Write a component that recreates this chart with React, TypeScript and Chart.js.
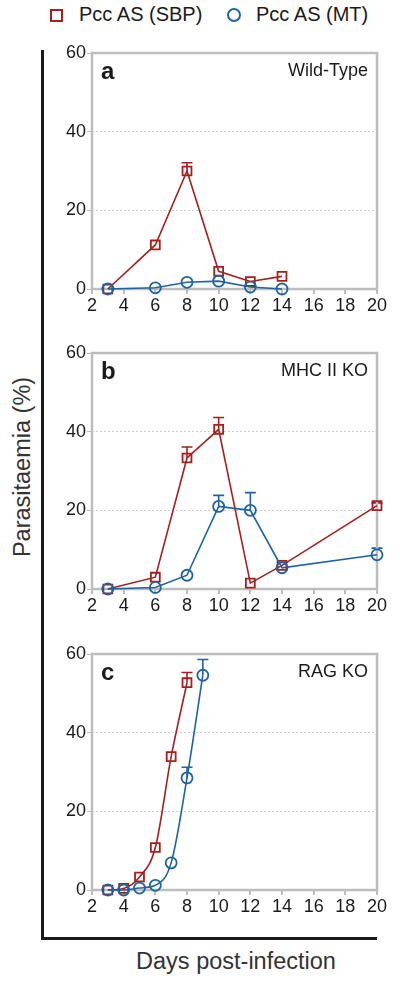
import React, { useEffect, useRef } from "react";
import { Chart, registerables } from "chart.js";

Chart.register(...registerables);

const RED = "#a3201f";
const BLUE = "#1f63a0";
const FONT = "'Liberation Sans', Arial, sans-serif";

const xTicks = [2, 4, 6, 8, 10, 12, 14, 16, 18, 20];
const yTicks = [0, 20, 40, 60];

// Panel a - Wild-Type
const aDays = [3, 6, 8, 10, 12, 14];
const aSBP = [0, 11.2, 30, 4.5, 1.9, 3.2];
const aSBPErr = [null, null, 2.1, null, null, null];
const aMT = [0, 0.3, 1.7, 2.0, 0.5, 0];
const aMTErr = [null, null, null, null, null, null];

// Panel b - MHC II KO
const bDays = [3, 6, 8, 10, 12, 14, 20];
const bSBP = [0, 3.0, 33.3, 40.6, 1.5, 6.0, 21.2];
const bSBPErr = [null, null, 2.8, 3.0, null, null, 0.7];
const bMT = [0, 0.4, 3.5, 21.0, 20.0, 5.4, 8.7];
const bMTErr = [null, null, null, 2.8, 4.5, null, 1.7];

// Panel c - RAG KO
const cSBPDays = [3, 4, 5, 6, 7, 8];
const cSBP = [0, 0.4, 3.3, 10.8, 33.9, 52.7];
const cSBPErr = [null, null, null, null, null, 2.6];
const cMTDays = [3, 4, 5, 6, 7, 8, 9];
const cMT = [0, 0, 0.5, 1.2, 6.9, 28.5, 54.6];
const cMTErr = [null, null, null, null, null, 2.7, 4.0];

const pair = (xs: number[], ys: number[]) => xs.map((x, i) => ({ x, y: ys[i] }));

type Panel = {
  letter: string;
  title: string;
  top: number;
  smooth: boolean;
  sbp: { x: number; y: number }[];
  sbpErr: (number | null)[];
  mt: { x: number; y: number }[];
  mtErr: (number | null)[];
};

const panels: Panel[] = [
  { letter: "a", title: "Wild-Type", top: 53, smooth: false, sbp: pair(aDays, aSBP), sbpErr: aSBPErr, mt: pair(aDays, aMT), mtErr: aMTErr },
  { letter: "b", title: "MHC II KO", top: 353, smooth: false, sbp: pair(bDays, bSBP), sbpErr: bSBPErr, mt: pair(bDays, bMT), mtErr: bMTErr },
  { letter: "c", title: "RAG KO", top: 654, smooth: true, sbp: pair(cSBPDays, cSBP), sbpErr: cSBPErr, mt: pair(cMTDays, cMT), mtErr: cMTErr },
];

const PLOT_LEFT = 92;
const PLOT_RIGHT = 377;
const PLOT_H = 236;
const CANVAS_LEFT = 44;
const PAD_TOP = 12;
const XAXIS_H = 36;

const errorBarPlugin = {
  id: "errorBars",
  beforeDatasetsDraw(chart: any) {
    const { ctx } = chart;
    const yScale = chart.scales.y;
    chart.data.datasets.forEach((ds: any, di: number) => {
      const meta = chart.getDatasetMeta(di);
      const errs = ds.errors || [];
      meta.data.forEach((pt: any, i: number) => {
        const e = errs[i];
        if (e == null) return;
        const v = ds.data[i].y;
        const y0 = yScale.getPixelForValue(v);
        const y1 = yScale.getPixelForValue(v + e);
        ctx.save();
        ctx.strokeStyle = ds.borderColor;
        ctx.lineWidth = 1.6;
        ctx.beginPath();
        ctx.moveTo(pt.x, y0);
        ctx.lineTo(pt.x, y1);
        ctx.moveTo(pt.x - 5.5, y1);
        ctx.lineTo(pt.x + 5.5, y1);
        ctx.stroke();
        ctx.restore();
      });
    });
  },
};

const framePlugin = {
  id: "frame",
  beforeDatasetsDraw(chart: any, _args: any, opts: any) {
    const { ctx, chartArea } = chart;
    ctx.save();
    ctx.strokeStyle = "#bdbdbd";
    ctx.lineWidth = 2.5;
    ctx.strokeRect(chartArea.left, chartArea.top, chartArea.right - chartArea.left, chartArea.bottom - chartArea.top);
    ctx.fillStyle = "#1a1a1a";
    ctx.font = `bold 24px ${FONT}`;
    ctx.textBaseline = "alphabetic";
    ctx.textAlign = "left";
    ctx.fillText(opts.letter, chartArea.left + 9, chartArea.top + 26);
    ctx.font = `18px ${FONT}`;
    ctx.textAlign = "right";
    ctx.fillText(opts.title, chartArea.right - 9, chartArea.top + 23);
    ctx.restore();
  },
};

function PanelChart({ panel }: { panel: Panel }) {
  const ref = useRef<HTMLCanvasElement>(null);
  useEffect(() => {
    if (!ref.current) return;
    const common = {
      borderWidth: 1.6,
      pointBorderWidth: 1.8,
      pointBackgroundColor: "rgba(0,0,0,0)",
      tension: 0,
      clip: false,
      cubicInterpolationMode: panel.smooth ? "monotone" : "default",
    };
    const chart = new Chart(ref.current, {
      type: "line",
      data: {
        datasets: [
          {
            label: "Pcc AS (MT)",
            data: panel.mt,
            borderColor: BLUE,
            pointBorderColor: BLUE,
            pointStyle: "circle",
            pointRadius: 5.5,
            errors: panel.mtErr,
            ...common,
          } as any,
          {
            label: "Pcc AS (SBP)",
            data: panel.sbp,
            borderColor: RED,
            pointBorderColor: RED,
            pointStyle: "rect",
            pointRadius: 6.3,
            errors: panel.sbpErr,
            ...common,
          } as any,
        ],
      },
      options: {
        animation: false,
        responsive: false,
        events: [],
        layout: { padding: { top: PAD_TOP, right: 400 - PLOT_RIGHT, left: 0, bottom: 0 } },
        plugins: {
          legend: { display: false },
          tooltip: { enabled: false },
          frame: { letter: panel.letter, title: panel.title },
        } as any,
        scales: {
          x: {
            type: "linear",
            min: 2,
            max: 20,
            afterFit: (s: any) => { s.height = XAXIS_H; },
            afterBuildTicks: (s: any) => { s.ticks = xTicks.map((v) => ({ value: v })); },
            ticks: { color: "#1a1a1a", font: { family: FONT, size: 18 }, padding: 1, maxRotation: 0, autoSkip: false },
            grid: { drawOnChartArea: false, drawTicks: true, tickLength: 5, color: "#bdbdbd", tickColor: "#bdbdbd", lineWidth: 2 },
            border: { display: false },
          },
          y: {
            type: "linear",
            min: 0,
            max: 60,
            afterFit: (s: any) => { s.width = PLOT_LEFT - CANVAS_LEFT; },
            afterBuildTicks: (s: any) => { s.ticks = yTicks.map((v) => ({ value: v })); },
            ticks: { color: "#1a1a1a", font: { family: FONT, size: 18 }, padding: 1 },
            grid: {
              tickLength: 5,
              color: (c: any) => (c.tick && (c.tick.value === 20 || c.tick.value === 40) ? "#cfcfcf" : "rgba(0,0,0,0)"),
              tickColor: "#bdbdbd",
              lineWidth: 1,
            },
            border: { display: false, dash: [2, 2] },
          },
        },
      } as any,
      plugins: [errorBarPlugin, framePlugin],
    });
    return () => chart.destroy();
  }, [panel]);
  return (
    <canvas
      ref={ref}
      width={400 - CANVAS_LEFT}
      height={PAD_TOP + PLOT_H + XAXIS_H}
      style={{ position: "absolute", left: CANVAS_LEFT, top: panel.top - PAD_TOP, width: 400 - CANVAS_LEFT, height: PAD_TOP + PLOT_H + XAXIS_H }}
    />
  );
}

export default function App() {
  return (
    <div style={{ position: "absolute", left: 0, top: 0, width: 400, height: 981, background: "#fff", fontFamily: FONT, color: "#1a1a1a", overflow: "hidden" }}>
      {/* Legend */}
      <div style={{ position: "absolute", left: 50, top: 9, width: 9, height: 9, border: `2px solid ${RED}` }} />
      <div style={{ position: "absolute", left: 79, top: 1, fontSize: 20, lineHeight: "26px", whiteSpace: "nowrap" }}>Pcc AS (SBP)</div>
      <div style={{ position: "absolute", left: 227, top: 8, width: 10, height: 10, border: `2px solid ${BLUE}`, borderRadius: "50%" }} />
      <div style={{ position: "absolute", left: 256, top: 1, fontSize: 20, lineHeight: "26px", whiteSpace: "nowrap" }}>Pcc AS (MT)</div>

      {/* Outer axes */}
      <div style={{ position: "absolute", left: 41, top: 50, width: 3, height: 890, background: "#1a1a1a" }} />
      <div style={{ position: "absolute", left: 41, top: 937, width: 336, height: 3, background: "#1a1a1a" }} />
      <div
        style={{
          position: "absolute",
          left: 22,
          top: 467,
          transform: "translate(-50%, -50%) rotate(-90deg)",
          fontSize: 23.5,
          color: "#333",
          whiteSpace: "nowrap",
        }}
      >
        Parasitaemia (%)
      </div>
      <div style={{ position: "absolute", left: 0, width: 472, top: 946, textAlign: "center", fontSize: 23.5, color: "#333", lineHeight: "30px", whiteSpace: "nowrap" }}>
        Days post-infection
      </div>

      {panels.map((p) => (
        <PanelChart key={p.letter} panel={p} />
      ))}
    </div>
  );
}
